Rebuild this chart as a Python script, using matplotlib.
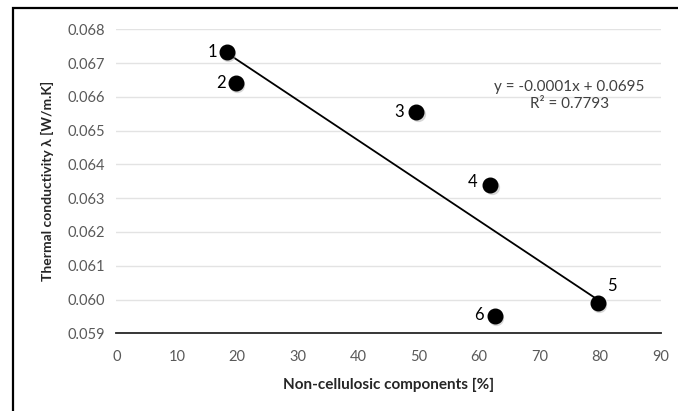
import numpy as np
import matplotlib
matplotlib.use('Agg')
import matplotlib.pyplot as plt
from matplotlib.patches import Rectangle

plt.rcParams['font.family'] = ['Lato', 'DejaVu Sans']

# non-cellulosic content [%] and thermal conductivity [W/m.K]
noncell = [18.25, 19.74, 49.6, 61.8, 79.6, 62.6]
lam = [0.06734, 0.06642, 0.065562, 0.06339, 0.05990, 0.05951]
labels = ['1', '2', '3', '4', '5', '6']
xticks = [0, 10, 20, 30, 40, 50, 60, 70, 80, 90]
yticks = [0.059, 0.060, 0.061, 0.062, 0.063, 0.064, 0.065, 0.066, 0.067, 0.068]

fig = plt.figure(figsize=(6.78, 4.11), dpi=100)
ax = fig.add_axes([0.1715, 0.189, 0.803, 0.7397])

# outer chart border
fig.patches.append(Rectangle((12.5/678, -0.1), 1.2, 1 - 8/411 + 0.1, transform=fig.transFigure,
                             fill=False, edgecolor='black', linewidth=1.6, zorder=0))

x = np.array(noncell)
y = np.array(lam)
slope, intercept = np.polyfit(x, y, 1)
r2 = np.corrcoef(x, y)[0, 1] ** 2
xl = np.array([x.min(), x.max()])
ax.plot(xl, slope * xl + intercept, color='black', lw=1.3, zorder=3)

# soft shadow under each sphere
ax.plot(x + 0.25, y - 0.00006, 'o', ms=11, color='#b0b0b0', alpha=0.5, mec='none', zorder=3)
ax.plot(x, y, 'o', ms=10.5, color='black', mec='black', zorder=4)

offsets = {'1': (-14, 0), '2': (-15, 0), '3': (-17, 0), '4': (-18, 3),
           '5': (14, 17), '6': (-16, 1)}
for xi, yi, lb in zip(noncell, lam, labels):
    dx, dy = offsets[lb]
    ax.annotate(lb, (xi, yi), xytext=(dx, dy), textcoords='offset pixels',
                ha='center', va='center', fontsize=12, color='black')

ax.text(74.9, 0.06603, f'y = {slope:.4f}x + {intercept:.4f}\nR² = {r2:.4f}',
        ha='center', va='center', fontsize=11, color='#404040', linespacing=1.25)

ax.set_xlim(0, 90)
ax.set_ylim(0.059, 0.068)
ax.set_xticks(xticks)
ax.set_yticks(yticks)
ax.set_yticklabels([f'{v:.3f}' for v in yticks])
ax.tick_params(length=0, labelsize=10.5, labelcolor='#595959')
ax.tick_params(axis='x', pad=12)
ax.tick_params(axis='y', pad=8)
ax.grid(axis='y', color='#e3e3e3', lw=1)
ax.set_axisbelow(True)
for s in ['top', 'right', 'left']:
    ax.spines[s].set_visible(False)
ax.spines['bottom'].set_color('#262626')
ax.spines['bottom'].set_linewidth(1.3)

ax.set_xlabel('Non-cellulosic components [%]', fontsize=11, fontweight='bold', color='#262626', labelpad=10)
ax.set_ylabel('Thermal conductivity λ [W/m.K]', fontsize=10, fontweight='bold', color='#262626', labelpad=10)

fig.savefig('out.png', dpi=100, facecolor='white')
